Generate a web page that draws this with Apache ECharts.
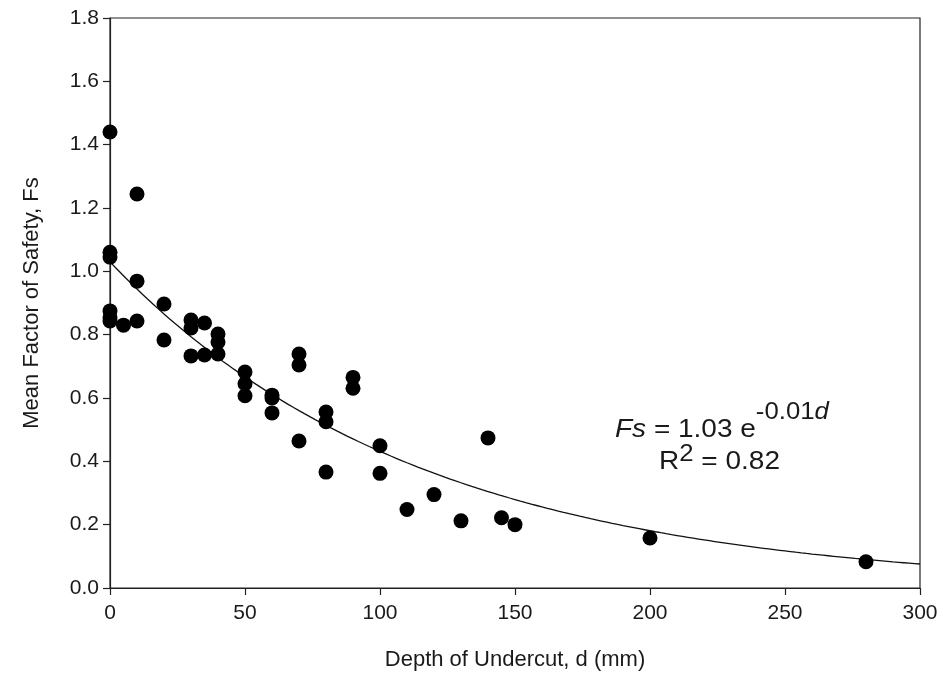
<!DOCTYPE html>
<html>
<head>
<meta charset="utf-8">
<script src="https://cdn.jsdelivr.net/npm/echarts@6/dist/echarts.min.js"></script>
<style>
  html, body { margin: 0; padding: 0; background: #fff; }
  #chart { width: 943px; height: 684px; }
</style>
</head>
<body>
<div id="chart"></div>
<script>
// Depth of undercut (mm) for each measured slope
const depthMm = [
  0, 0, 0, 0, 0, 0,
  5,
  10, 10, 10,
  20, 20,
  30, 30, 30,
  35, 35,
  40, 40, 40,
  50, 50, 50,
  60, 60, 60,
  70, 70, 70,
  80, 80, 80,
  90, 90,
  100, 100,
  110, 120, 130, 140, 145, 150, 200, 280
];
// Mean factor of safety for each measurement
const meanFs = [
  1.44, 1.06, 1.045, 0.875, 0.853, 0.843,
  0.83,
  1.244, 0.969, 0.843,
  0.897, 0.783,
  0.846, 0.821, 0.733,
  0.837, 0.736,
  0.802, 0.777, 0.739,
  0.682, 0.645, 0.607,
  0.609, 0.600, 0.553,
  0.739, 0.704, 0.464,
  0.556, 0.525, 0.366,
  0.665, 0.631,
  0.449, 0.362,
  0.248, 0.295, 0.212, 0.474, 0.222, 0.200, 0.158, 0.083
];
// Fitted exponential decay Fs = a * exp(-k d)
const fitA = 1.03;
const fitK = 0.0087;
const xTicks = [0, 50, 100, 150, 200, 250, 300];
const yTicks = [0, 0.2, 0.4, 0.6, 0.8, 1.0, 1.2, 1.4, 1.6, 1.8];

const scatterData = depthMm.map((d, i) => [d, meanFs[i]]);
const fitLine = [];
for (let d = 0; d <= xTicks[xTicks.length - 1]; d += 2) {
  fitLine.push([d, fitA * Math.exp(-fitK * d)]);
}

const FONT = '"Liberation Sans", Arial, sans-serif';
const INK = '#1a1a1a';
const chart = echarts.init(document.getElementById('chart'));
chart.setOption({
  animation: false,
  backgroundColor: '#fff',
  grid: {
    left: 110, right: 23, top: 18, bottom: 96,
    show: true, borderColor: '#222', borderWidth: 1.2, backgroundColor: 'transparent'
  },
  xAxis: {
    type: 'value',
    min: xTicks[0], max: xTicks[xTicks.length - 1], interval: 50,
    name: 'Depth of Undercut, d (mm)',
    nameLocation: 'middle', nameGap: 61,
    nameTextStyle: { fontFamily: FONT, fontSize: 22, color: INK },
    axisLine: { show: true, onZero: false, lineStyle: { color: '#222', width: 1.2 } },
    axisTick: { show: true, inside: false, length: 7, lineStyle: { color: '#222', width: 1.2 } },
    axisLabel: { fontFamily: FONT, fontSize: 21, color: INK, margin: 15 },
    splitLine: { show: false }
  },
  yAxis: {
    type: 'value',
    min: yTicks[0], max: yTicks[yTicks.length - 1], interval: 0.2,
    name: 'Mean Factor of Safety, Fs',
    nameLocation: 'middle', nameGap: 67,
    nameTextStyle: { fontFamily: FONT, fontSize: 22, color: INK },
    axisLine: { show: true, onZero: false, lineStyle: { color: '#222', width: 1.2 } },
    axisTick: { show: true, inside: false, length: 7, lineStyle: { color: '#222', width: 1.2 } },
    axisLabel: { fontFamily: FONT, fontSize: 21, color: INK, margin: 11,
      formatter: v => v.toFixed(1) },
    splitLine: { show: false }
  },
  series: [
    {
      type: 'line',
      data: fitLine,
      showSymbol: false,
      smooth: false,
      lineStyle: { color: '#111', width: 1.3 },
      z: 2
    },
    {
      type: 'scatter',
      data: scatterData,
      symbol: 'circle',
      symbolSize: 15,
      itemStyle: { color: '#000', opacity: 1 },
      z: 3
    }
  ],
  graphic: [
    {
      // regression equation, with raised exponent
      type: 'text',
      x: 615, y: 401, scaleX: 1.12,
      style: {
        text: '{it|Fs}{n| = 1.03 e}{sup|-0.01}{supit|d}',
        rich: {
          it: { fontFamily: FONT, fontSize: 25, fontStyle: 'italic', fill: INK, verticalAlign: 'bottom', lineHeight: 42 },
          n: { fontFamily: FONT, fontSize: 25, fill: INK, verticalAlign: 'bottom', lineHeight: 42 },
          sup: { fontFamily: FONT, fontSize: 23, fill: INK, verticalAlign: 'top', lineHeight: 42 },
          supit: { fontFamily: FONT, fontSize: 23, fontStyle: 'italic', fill: INK, verticalAlign: 'top', lineHeight: 42 }
        }
      }
    },
    {
      // coefficient of determination
      type: 'text',
      x: 659, y: 443, scaleX: 1.12,
      style: {
        text: '{n|R}{sup|2}{n| = 0.82}',
        rich: {
          n: { fontFamily: FONT, fontSize: 25, fill: INK, verticalAlign: 'bottom', lineHeight: 32 },
          sup: { fontFamily: FONT, fontSize: 23, fill: INK, verticalAlign: 'top', lineHeight: 32 }
        }
      }
    }
  ]
});
</script>
</body>
</html>
